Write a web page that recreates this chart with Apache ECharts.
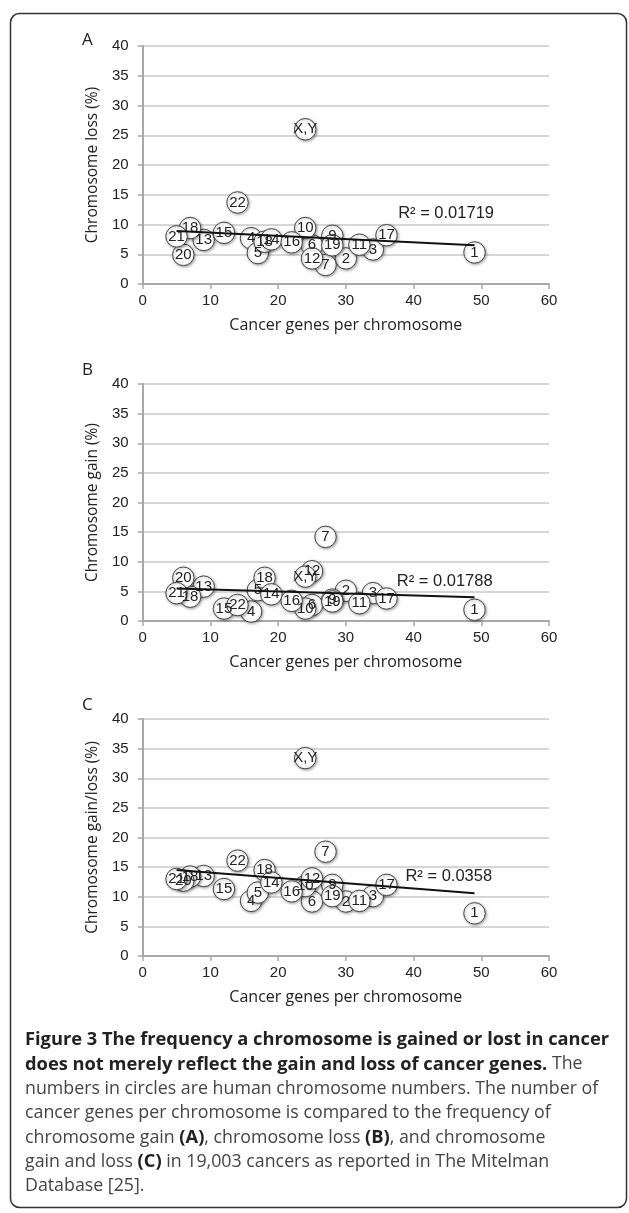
<!DOCTYPE html>
<html>
<head>
<meta charset="utf-8">
<script src="https://cdn.jsdelivr.net/npm/echarts@6/dist/echarts.min.js"></script>
<style>
html,body{margin:0;padding:0;background:#fff;}
#c{width:629px;height:1213px;}
</style>
</head>
<body>
<div id="c"></div>
<script>
// ---- data ----
const chromLabels = ['1','2','3','4','5','6','7','18','9','10','11','12','13','14','15','16','17','18','19','20','21','22','X,Y'];
const genesPerChrom = [49,30,34,16,17,25,27,18,28,24,32,25,9,19,12,22,36,7,28,6,5,14,24];
const lossA = [5.3,4.3,5.8,7.7,5.2,6.5,3.2,7.1,8.1,9.4,6.6,4.3,7.4,7.5,8.6,7.0,8.2,9.4,6.5,4.9,8.0,13.7,26];
const gainB = [1.9,5.1,4.7,1.6,5.2,2.7,14.2,7.3,3.6,2.1,3.0,8.4,5.8,4.5,2.1,3.4,3.8,4.1,3.3,7.3,4.7,2.7,7.5];
const gainLossC = [7.2,9.2,10.1,9.3,10.7,9.2,17.6,14.5,12.0,11.8,9.3,13.1,13.5,12.4,11.3,10.9,12.0,13.4,10.1,12.7,13.0,16.1,33.4];
const trendA = [[5,8.9],[49,6.5]];
const trendB = [[5,5.5],[49,4.0]];
const trendC = [[5,14.5],[49,10.6]];
const r2Text = ['R\u00B2 = 0.01719','R\u00B2 = 0.01788','R\u00B2 = 0.0358'];
const r2Pos = [[44.8,11.8],[44.6,6.6],[45.2,13.4]];
const yNames = ['Chromosome loss (%)','Chromosome gain (%)','Chromosome gain/loss (%)'];
const panelLetters = ['A','B','C'];
const xName = 'Cancer genes per chromosome';
const xTicks = {min:0,max:60,interval:10};
const yTicks = {min:0,max:40,interval:5};

const seriesVals = [lossA, gainB, gainLossC];
const trends = [trendA, trendB, trendC];
const gridTops = [46, 384, 719];
const gridH = [238, 237, 237];
const letterTops = [32, 362, 697];

const chart = echarts.init(document.getElementById('c'), null, {renderer:'canvas'});

const grids = [], xAxes = [], yAxes = [], series = [];
for (let i=0;i<3;i++){
  grids.push({left:142.7, width:406.3, top:gridTops[i], height:gridH[i]});
  xAxes.push({
    type:'value', gridIndex:i, min:xTicks.min, max:xTicks.max, interval:xTicks.interval,
    name:xName, nameLocation:'middle', nameGap:33,
    nameTextStyle:{fontFamily:'Open Sans', fontSize:16, color:'#222'},
    axisLine:{show:true, onZero:false, lineStyle:{color:'#a8a8a8', width:2}},
    axisTick:{show:true, inside:false, length:5, lineStyle:{color:'#a8a8a8', width:1.5}},
    axisLabel:{fontFamily:'Liberation Sans', fontSize:15, color:'#222', margin:9},
    splitLine:{show:false}
  });
  yAxes.push({
    type:'value', gridIndex:i, min:yTicks.min, max:yTicks.max, interval:yTicks.interval,
    name:yNames[i], nameLocation:'middle', nameGap:42, nameRotate:90,
    nameTextStyle:{fontFamily:'Open Sans', fontSize:15.5, color:'#222'},
    axisLine:{show:true, lineStyle:{color:'#a8a8a8', width:2}},
    axisTick:{show:true, inside:false, length:5, lineStyle:{color:'#a8a8a8', width:1.5}},
    axisLabel:{fontFamily:'Liberation Sans', fontSize:15, color:'#222', margin:14},
    splitLine:{show:true, lineStyle:{color:'#c8c8c8', width:1.5}}
  });
  const data = genesPerChrom.map((g,k)=>({value:[g, seriesVals[i][k]], name:chromLabels[k]}));
  series.push({
    type:'scatter', xAxisIndex:i, yAxisIndex:i, data:data,
    symbol:'circle', symbolSize:21.5, z:2,
    itemStyle:{color:'#ffffff', borderColor:'#444', borderWidth:1,
      shadowBlur:3, shadowColor:'rgba(0,0,0,0.35)', shadowOffsetX:1, shadowOffsetY:1, opacity:1},
    label:{show:true, position:'inside', formatter:p=>p.name,
      fontFamily:'Liberation Sans', fontSize:15, color:'#222'},
    emphasis:{disabled:true}
  });
  series.push({
    type:'line', xAxisIndex:i, yAxisIndex:i, data:trends[i], z:5,
    symbol:'none', lineStyle:{color:'#111', width:2},
    markPoint:{
      symbol:'circle', symbolSize:0,
      data:[{coord:r2Pos[i], value:r2Text[i]}],
      label:{show:true, formatter:r2Text[i], position:'inside',
        fontFamily:'Liberation Sans', fontSize:16.5, color:'#222'}
    },
    emphasis:{disabled:true}
  });
}

const capFont = 'Open Sans';
const capLines = [
  '{b|Figure 3 The frequency a chromosome is gained or lost in cancer}',
  '{b|does not merely reflect the gain and loss of cancer genes.}{n| The}',
  '{n|numbers in circles are human chromosome numbers. The number of}',
  '{n|cancer genes per chromosome is compared to the frequency of}',
  '{n|chromosome gain }{b|(A)}{n|, chromosome loss }{b|(B)}{n|, and chromosome}',
  '{n|gain and loss }{b|(C)}{n| in 19,003 cancers as reported in The Mitelman}',
  '{n|Database [25].}'
];
const graphics = [
  {type:'rect', shape:{x:10.5, y:13.5, width:616, height:1194, r:9},
   style:{fill:'none', stroke:'#333', lineWidth:1.5}, z:-1}
];
for (let i=0;i<3;i++){
  graphics.push({type:'text', left:82, top:letterTops[i],
    style:{text:panelLetters[i], font:'17px "Open Sans"', fill:'#222'}});
}
capLines.forEach((t,k)=>{
  graphics.push({type:'text', left:25, top:1031+k*24.4,
    style:{text:t, rich:{
      b:{fontFamily:capFont, fontSize:18.3, fontWeight:'bold', fill:'#222', lineHeight:24},
      n:{fontFamily:capFont, fontSize:17.8, fontWeight:'normal', fill:'#444', lineHeight:24}
    }}});
});

chart.setOption({
  animation:false,
  backgroundColor:'#fff',
  grid:grids, xAxis:xAxes, yAxis:yAxes, series:series,
  graphic:graphics
});
</script>
</body>
</html>
